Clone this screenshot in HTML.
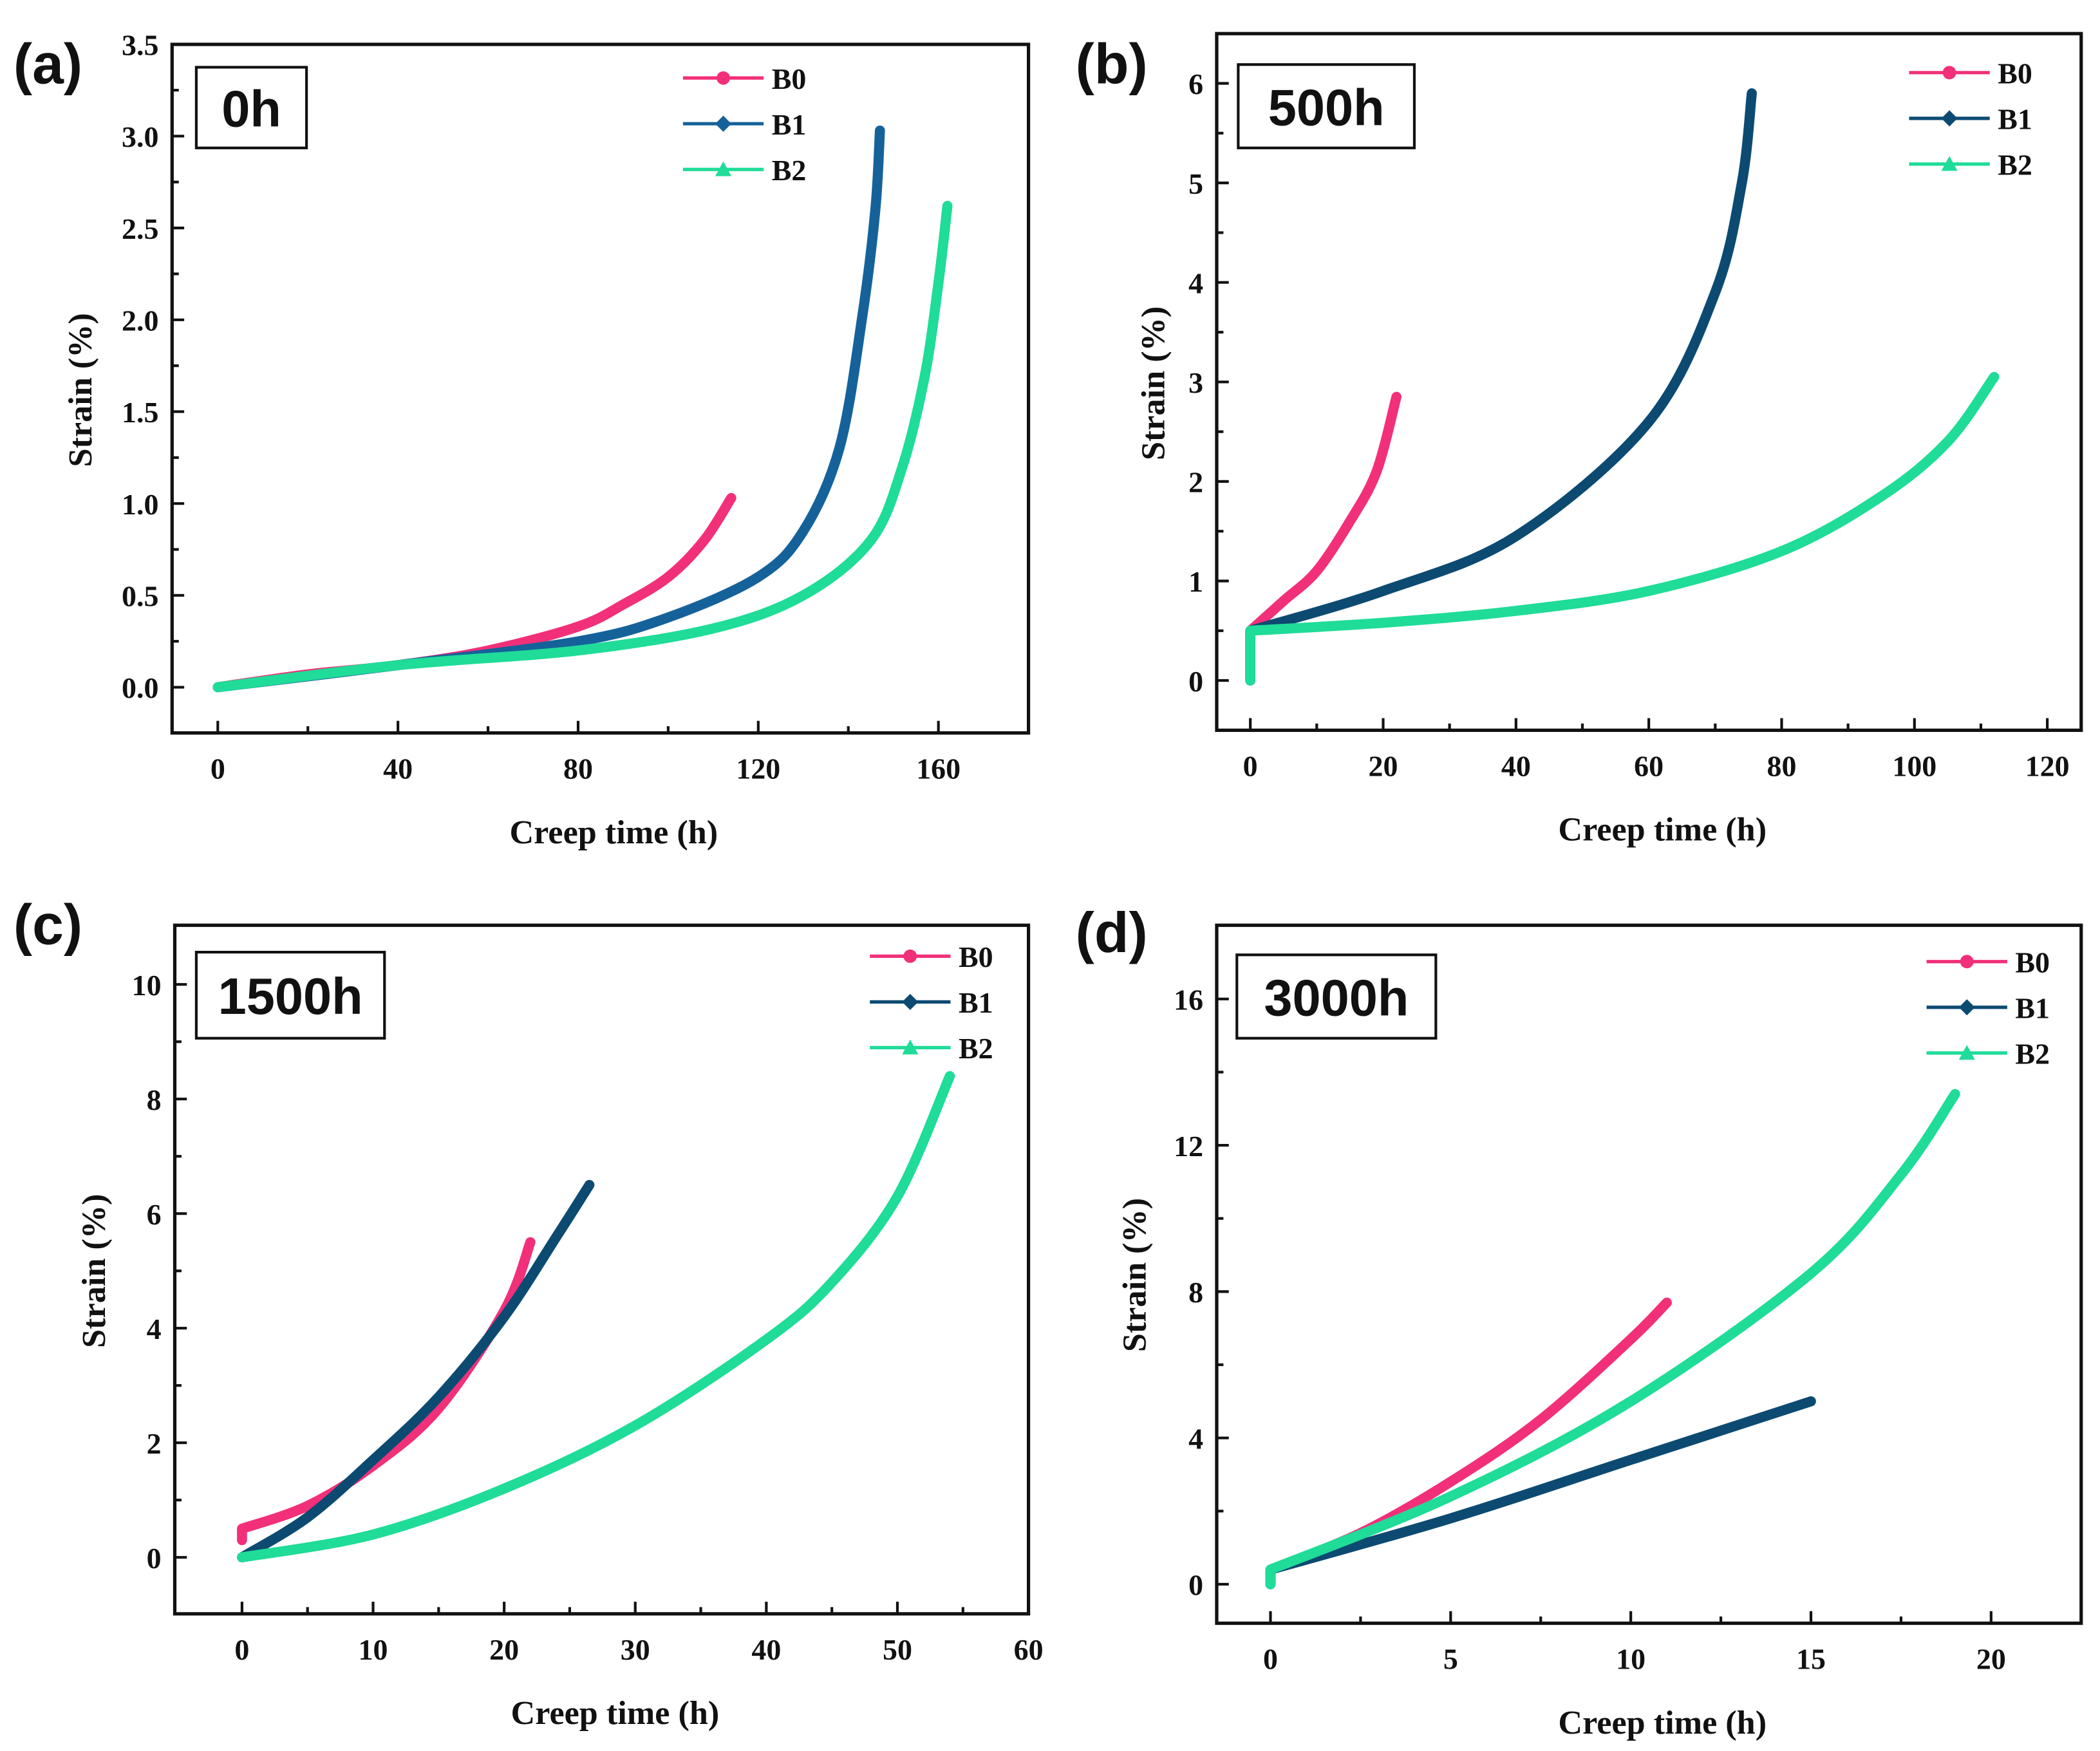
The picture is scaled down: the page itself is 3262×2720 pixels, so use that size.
<!DOCTYPE html>
<html><head><meta charset="utf-8"><style>
html,body{margin:0;padding:0;background:#fff}
svg{display:block}
.tk{font-family:"Liberation Serif",serif;font-weight:bold;font-size:22px;fill:#111}
.ax{font-family:"Liberation Serif",serif;font-weight:bold;font-size:25px;fill:#111}
.pl{font-family:"Liberation Sans",sans-serif;font-weight:bold;font-size:42px;fill:#111}
.tt{font-family:"Liberation Sans",sans-serif;font-weight:bold;font-size:38px;fill:#111}
.lg{font-family:"Liberation Serif",serif;font-weight:bold;font-size:22px;fill:#111}
</style></head><body>
<svg id="fig" width="3262" height="2720" viewBox="0 0 1562 1302" preserveAspectRatio="none" xmlns="http://www.w3.org/2000/svg"></svg>
<script>
// ---- data (time h, strain %) ----
const aB0t=[0,20,40,60,80,90,100,108,114], aB0s=[0,0.07,0.12,0.2,0.33,0.45,0.6,0.8,1.03];
const aB1t=[0,40,80,100,120,130,138,143,146,147], aB1s=[0,0.12,0.25,0.38,0.6,0.85,1.3,2.0,2.6,3.03];
const aB2t=[0,40,80,110,130,145,152,157,160,162], aB2s=[0,0.12,0.2,0.32,0.5,0.8,1.2,1.7,2.2,2.62];
const bB0t=[0,0,5,10,15,19,22], bB0s=[0,0.5,0.8,1.1,1.6,2.1,2.85];
const bB1t=[0,0,20,40,60,70,74,75.5], bB1s=[0,0.5,0.9,1.45,2.6,3.9,5.0,5.9];
const bB2t=[0,0,20,40,60,80,95,105,112], bB2s=[0,0.5,0.58,0.7,0.9,1.3,1.85,2.4,3.05];
const cB0t=[0,0,5,10,15,20,22], cB0s=[0.3,0.5,0.9,1.6,2.6,4.3,5.5];
const cB1t=[0,5,10,15,20,24,26.5], cB1s=[0,0.7,1.7,2.8,4.2,5.6,6.5];
const cB2t=[0,10,20,30,40,45,50,54], cB2s=[0,0.4,1.2,2.3,3.8,4.8,6.3,8.4];
const dB0t=[0,0,2.5,5,7.5,10,11], dB0s=[0,0.4,1.4,2.8,4.5,6.7,7.7];
const dB1t=[0,0,5,10,15], dB1s=[0,0.4,1.8,3.4,5.0];
const dB2t=[0,0,5,10,15,17.5,19], dB2s=[0,0.4,2.4,5.0,8.5,11.2,13.4];
const aXt=[0,40,80,120,160], aYt=["0.0","0.5","1.0","1.5","2.0","2.5","3.0","3.5"];
const bXt=[0,20,40,60,80,100,120], bYt=["0","1","2","3","4","5","6"];
const cXt=[0,10,20,30,40,50,60], cYt=["0","2","4","6","8","10"];
const dXt=[0,5,10,15,20], dYt=["0","4","8","12","16"];

const NS="http://www.w3.org/2000/svg", svg=document.getElementById('fig');
function mk(tag,at,txt,parent){const e=document.createElementNS(NS,tag);for(const k in at)e.setAttribute(k,at[k]);if(txt!=null)e.textContent=txt;(parent||svg).appendChild(e);return e;}
function smooth(pts){
  let d='M'+pts[0][0].toFixed(1)+','+pts[0][1].toFixed(1);
  for(let i=0;i<pts.length-1;i++){
    const p0=pts[Math.max(0,i-1)],p1=pts[i],p2=pts[i+1],p3=pts[Math.min(pts.length-1,i+2)];
    if(p1[0]===p2[0]){d+=' L'+p2[0].toFixed(1)+','+p2[1].toFixed(1);continue;}
    const a0=(p0[0]===p1[0])?p1:p0, a3=(p3[0]===p2[0])?p2:p3;
    const c1=[p1[0]+(p2[0]-a0[0])/6,p1[1]+(p2[1]-a0[1])/6];
    const c2=[p2[0]-(a3[0]-p1[0])/6,p2[1]-(a3[1]-p1[1])/6];
    d+=` C${c1[0].toFixed(1)},${c1[1].toFixed(1)} ${c2[0].toFixed(1)},${c2[1].toFixed(1)} ${p2[0].toFixed(1)},${p2[1].toFixed(1)}`;
  }
  return d;
}

const panels=[
 {id:'a',box:[128,33,765,545],x0:162,xs:134/40,y0:511,ys:68.3/0.5,xt:aXt,yt:aYt,title:'0h',tb:[146,50,82,60],lg:[508,58],letter:[10,62],b1:'#15629a',
  series:[[aB0t,aB0s],[aB1t,aB1s],[aB2t,aB2s]],ylab:[68,290]},
 {id:'b',box:[905,25,1548,543],x0:930,xs:98.8/20,y0:506,ys:74,xt:bXt,yt:bYt,title:'500h',tb:[921,48,131,62],lg:[1420,54],letter:[800,62],b1:'#0c4a72',
  series:[[bB0t,bB0s],[bB1t,bB1s],[bB2t,bB2s]],ylab:[866,285]},
 {id:'c',box:[130,688,765,1200],x0:180,xs:97.5/10,y0:1158,ys:42.6,xt:cXt,yt:cYt,title:'1500h',tb:[146,708,140,64],lg:[647,711],letter:[10,702],b1:'#0c4a72',
  series:[[cB0t,cB0s],[cB1t,cB1s],[cB2t,cB2s]],ylab:[78,945]},
 {id:'d',box:[905,688,1548,1207],x0:945,xs:134/5,y0:1178,ys:27.2,xt:dXt,yt:dYt,title:'3000h',tb:[920,710,148,62],lg:[1433,715],letter:[800,708],b1:'#0c4a72',
  series:[[dB0t,dB0s],[dB1t,dB1s],[dB2t,dB2s]],ylab:[852,948]}
];
const cols=['#f23079',null,'#1fdc98'];
const names=['B0','B1','B2'];
panels.forEach(p=>{
  const g=mk('g',{});
  
  
  const [l,t,r,b]=p.box;
  const X=v=>p.x0+v*p.xs, Y=v=>p.y0-v*p.ys;
  const fr=mk('rect',{x:l,y:t,width:r-l,height:b-t,fill:'none',stroke:'#111','stroke-width':2.5},null,g);
  
  p.xt.forEach((v,i)=>{
    mk('line',{x1:X(v),x2:X(v),y1:b,y2:b-9,stroke:'#111','stroke-width':2},null,g);
    if(i<p.xt.length-1) mk('line',{x1:X((v+p.xt[i+1])/2),x2:X((v+p.xt[i+1])/2),y1:b,y2:b-5,stroke:'#111','stroke-width':2},null,g);
    const tx=mk('text',{x:X(v),y:b+34,'text-anchor':'middle',class:'tk'},String(v),g);
    
  });
  p.yt.forEach((s,i)=>{
    const v=parseFloat(s);
    mk('line',{x1:l,x2:l+9,y1:Y(v),y2:Y(v),stroke:'#111','stroke-width':2},null,g);
    if(i<p.yt.length-1){const m=(v+parseFloat(p.yt[i+1]))/2;mk('line',{x1:l,x2:l+5,y1:Y(m),y2:Y(m),stroke:'#111','stroke-width':2},null,g);}
    const ty=mk('text',{x:l-10,y:Y(v)+8,'text-anchor':'end',class:'tk'},s,g);
    
  });
  const xl=mk('text',{x:(l+r)/2+10,y:b+82,'text-anchor':'middle',class:'ax'},'Creep time (h)',g);
  
  const yl=mk('text',{x:p.ylab[0],y:p.ylab[1],'text-anchor':'middle',class:'ax',transform:`rotate(-90 ${p.ylab[0]} ${p.ylab[1]})`},'Strain (%)',g);
  
  const le=mk('text',{x:p.letter[0],y:p.letter[1],class:'pl'},'('+p.id+')',g);
  
  const [bx,by,bw,bh]=p.tb;
  mk('rect',{x:bx,y:by,width:bw,height:bh,fill:'#fff',stroke:'#111','stroke-width':2},null,g);
  const tt=mk('text',{x:bx+bw/2,y:by+bh/2+14,'text-anchor':'middle',class:'tt'},p.title,g);
  
  p.series.forEach((s,k)=>{
    const c=k===1?p.b1:cols[k];
    const pts=s[0].map((tv,i)=>[X(tv),Y(s[1][i])]);
    const pa=mk('path',{d:smooth(pts),fill:'none',stroke:c,'stroke-width':7.5,'stroke-linecap':'round','stroke-linejoin':'round'},null,g);
    
    
    const ly=p.lg[1]+k*34, lx=p.lg[0];
    mk('line',{x1:lx,x2:lx+60,y1:ly,y2:ly,stroke:c,'stroke-width':2.5},null,g);
    if(k===0) mk('circle',{cx:lx+30,cy:ly,r:5,fill:c},null,g);
    else if(k===1) mk('path',{d:`M${lx+30},${ly-6} L${lx+36},${ly} L${lx+30},${ly+6} L${lx+24},${ly} Z`,fill:c},null,g);
    else mk('path',{d:`M${lx+30},${ly-6} L${lx+36},${ly+5} L${lx+24},${ly+5} Z`,fill:c},null,g);
    const lt=mk('text',{x:lx+66,y:ly+8,class:'lg'},names[k],g);
    
    
  });
});
</script>
</body></html>
